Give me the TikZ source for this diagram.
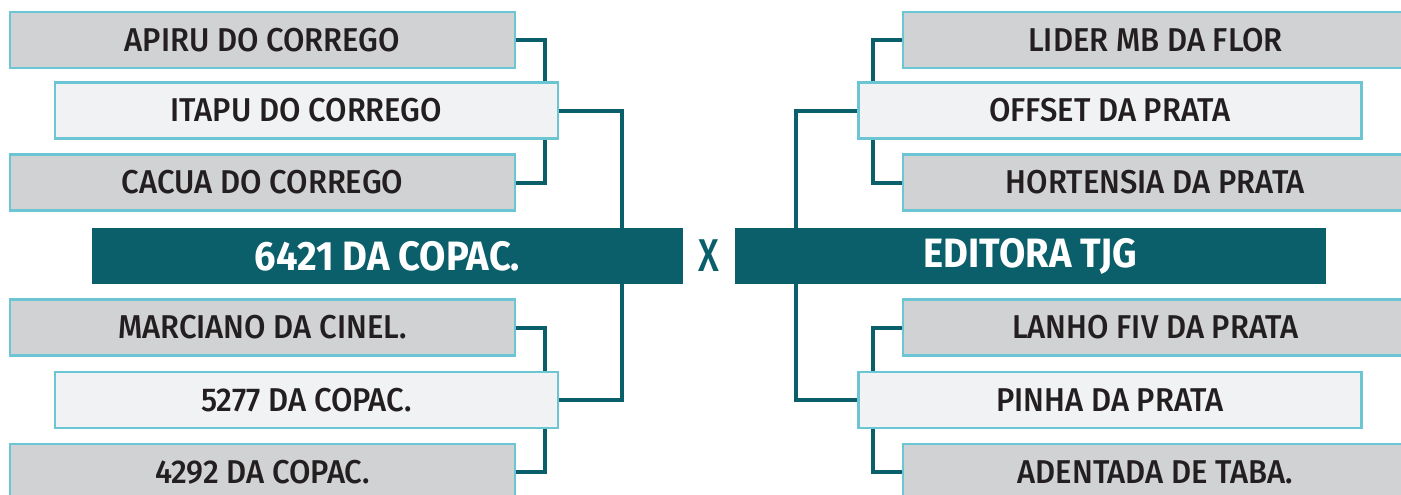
\documentclass[tikz,border=0pt]{standalone}
\usepackage{fontspec}
\setmainfont{Fira Sans}[UprightFont={* Medium}, BoldFont={* Bold}, FakeStretch=0.94]
\newfontfamily\barfont{Fira Sans}[UprightFont={* Bold}, FakeStretch=0.93]
\newfontfamily\xfont{Fira Sans}[UprightFont={* Medium}, FakeStretch=0.8]
\usetikzlibrary{backgrounds}
\definecolor{teal}{HTML}{0B5F6A}
\definecolor{cyanb}{HTML}{6CC5D3}
\definecolor{greyf}{HTML}{D1D2D4}
\definecolor{lightf}{HTML}{F1F2F4}
\definecolor{txt}{HTML}{231F20}
\tikzset{
  team/.style={draw=cyanb, line width=2.5pt, fill=greyf, minimum width=505pt, minimum height=56pt, inner sep=0pt, text=txt, font=\fontsize{33}{33}\selectfont},
  semi/.style={team, fill=lightf, minimum width=503pt},
  final/.style={fill=teal, minimum width=591pt, minimum height=56pt, inner sep=0pt, text=white, font=\barfont\fontsize{41}{41}\selectfont},
  conn/.style={draw=teal, line width=4pt}
}
\begin{document}
\begin{tikzpicture}[x=1pt,y=-1pt]
\useasboundingbox (0,0) rectangle (1401,495);
\clip (0,0) rectangle (1401,495);
% left top
\node[team] (a1) at (262.5,40) {APIRU DO CORREGO};
\node[semi] (a2) at (306.5,110.5) {ITAPU DO CORREGO};
\node[team] (a3) at (262.5,182.5) {CACUA DO CORREGO};
% finals
\node[final] (m1) at (387.5,256) {6421 DA COPAC.};
\node[text=teal, font=\xfont\fontsize{46}{46}\selectfont, inner sep=0pt] (vs) at (709,256) {X};
\node[final] (m2) at (1030.5,256) {EDITORA TJG};
% left bottom
\node[team] (b1) at (262.5,327.5) {MARCIANO DA CINEL.};
\node[semi] (b2) at (306.5,400) {5277 DA COPAC.};
\node[team] (b3) at (262.5,472) {4292 DA COPAC.};
% right top
\node[team] (c1) at (1155.5,40) {LIDER MB DA FLOR};
\node[semi] (c2) at (1110,110.5) {OFFSET DA PRATA};
\node[team] (c3) at (1155.5,182.5) {HORTENSIA DA PRATA};
% right bottom
\node[team] (d1) at (1155.5,327.5) {LANHO FIV DA PRATA};
\node[semi] (d2) at (1110,400) {PINHA DA PRATA};
\node[team] (d3) at (1155.5,472) {ADENTADA DE TABA.};
% connector columns
\coordinate (xa) at (545,0);
\coordinate (xm) at (622,0);
\coordinate (xr) at (873,0);
\coordinate (xq) at (796,0);
\begin{scope}[on background layer]
\draw[conn] (a1.east) -| (a2.north -| xa);
\draw[conn] (a3.east) -| (a2.south -| xa);
\draw[conn] (a2.east) -| (m1.north -| xm);
\draw[conn] (b1.east) -| (b2.north -| xa);
\draw[conn] (b3.east) -| (b2.south -| xa);
\draw[conn] (b2.east) -| (m1.south -| xm);
\draw[conn] (c1.west) -| (c2.north -| xr);
\draw[conn] (c3.west) -| (c2.south -| xr);
\draw[conn] (c2.west) -| (m2.north -| xq);
\draw[conn] (d1.west) -| (d2.north -| xr);
\draw[conn] (d3.west) -| (d2.south -| xr);
\draw[conn] (d2.west) -| (m2.south -| xq);
\end{scope}
\end{tikzpicture}
\end{document}
